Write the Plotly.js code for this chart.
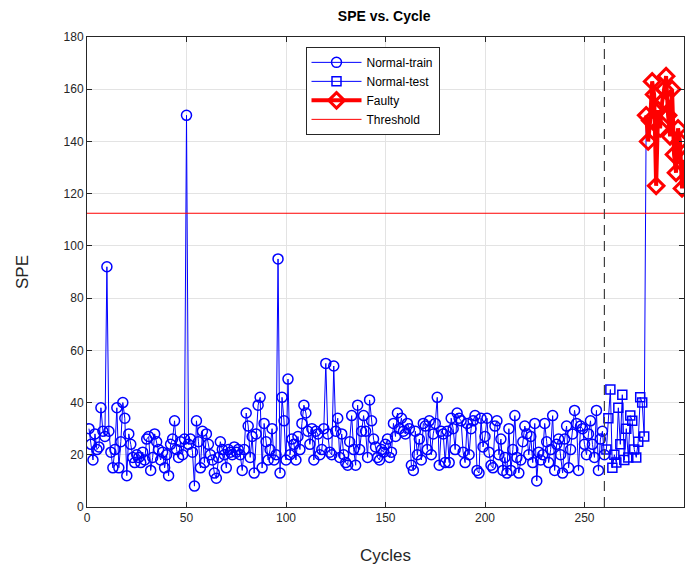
<!DOCTYPE html>
<html>
<head>
<meta charset="utf-8">
<script src="https://cdn.plot.ly/plotly-3.0.1.min.js"></script>
<style>html,body{margin:0;padding:0;background:#fff;}#chart{width:686px;height:567px;}</style>
</head>
<body>
<div id="chart"></div>
<script>
// SPE values per cycle
const trainSPE = [
  30, 24, 18, 28, 22, 23, 38, 29, 27, 92,
  29, 21, 15, 22, 38, 15, 25, 40, 34, 12,
  28, 24, 19, 17, 20, 19, 17, 21, 18, 26,
  27, 14, 19, 28, 25, 22, 18, 21, 15, 20,
  12, 24, 26, 33, 22, 19, 25, 20, 26, 150,
  24, 26, 21, 8, 33, 25, 15, 29, 17, 28,
  24, 20, 18, 13, 11, 19, 25, 22, 20, 15,
  22, 21, 20, 23, 21, 22, 20, 14, 22, 36,
  31, 19, 27, 13, 28, 39, 42, 15, 32, 25,
  18, 22, 30, 18, 20, 95, 13, 42, 33, 18,
  49, 20, 26, 24, 18, 27, 22, 32, 39, 36,
  29, 24, 30, 18, 29, 28, 20, 22, 30, 55,
  28, 21, 20, 54, 29, 34, 19, 28, 20, 17,
  16, 25, 35, 22, 16, 39, 22, 29, 35, 29,
  19, 41, 33, 26, 23, 19, 18, 22, 21, 24,
  26, 19, 21, 32, 27, 36, 30, 34, 29, 28,
  32, 30, 16, 14, 29, 20, 26, 18, 32, 31,
  22, 33, 20, 28, 32, 42, 16, 29, 28, 17,
  29, 17, 34, 30, 22, 36, 34, 33, 21, 17,
  32, 20, 30, 33, 35, 14, 13, 34, 23, 27,
  34, 21, 16, 15, 31, 33, 20, 26, 14, 19,
  13, 30, 14, 22, 35, 19, 13, 18, 25, 31,
  28, 20, 27, 17, 32, 10, 21, 18, 20, 32,
  25, 17, 22, 35, 14, 24, 26, 20, 13, 26,
  31, 15, 22, 28, 37, 32, 14, 31, 30, 24,
  20, 28, 33, 24, 19, 37, 14, 26, 29, 20
];
const testSPE = [22, 34, 45, 15, 20, 17, 38, 24, 43, 18, 30, 19, 35, 33, 22, 19, 25, 42, 40, 27];
const faultySPE = [150, 140, 148, 163, 158, 123, 152, 145, 155, 160, 165, 150, 142, 160, 135, 128, 145, 140, 122, 133];
const threshold = 112.5;
const splitCycle = 260;
const xTicks = [0, 50, 100, 150, 200, 250, 300];
const yTicks = [0, 20, 40, 60, 80, 100, 120, 140, 160, 180];

const trainX = trainSPE.map((_, i) => i + 1);
const testX = testSPE.map((_, i) => trainSPE.length + i + 1);
const faultyX = faultySPE.map((_, i) => trainSPE.length + testSPE.length + i + 1);

const blue = '#0000ff', red = '#ff0000';
const traces = [
  {x: [trainX[trainX.length-1], testX[0]], y: [trainSPE[trainSPE.length-1], testSPE[0]], mode: 'lines',
   line: {color: blue, width: 1}, showlegend: false, hoverinfo: 'skip'},
  {x: [testX[testX.length-1], faultyX[0]], y: [testSPE[testSPE.length-1], faultySPE[0]], mode: 'lines',
   line: {color: blue, width: 1}, showlegend: false, hoverinfo: 'skip'},
  {x: trainX, y: trainSPE, name: 'Normal-train', mode: 'lines+markers',
   line: {color: blue, width: 1}, marker: {symbol: 'circle-open', size: 10, color: blue, line: {width: 1.5, color: blue}}},
  {x: testX, y: testSPE, name: 'Normal-test', mode: 'lines+markers',
   line: {color: blue, width: 1}, marker: {symbol: 'square-open', size: 9, color: blue, line: {width: 1.5, color: blue}}},
  {x: faultyX, y: faultySPE, name: 'Faulty', mode: 'lines+markers',
   line: {color: red, width: 4}, marker: {symbol: 'diamond-open', size: 12, color: red, line: {width: 3, color: red}}},
  {x: [xTicks[0], xTicks[xTicks.length-1]], y: [threshold, threshold], name: 'Threshold', mode: 'lines',
   line: {color: red, width: 1}}
];

const axisCommon = {
  showline: true, linecolor: '#262626', linewidth: 1, mirror: 'ticks',
  ticks: 'inside', ticklen: 5, tickcolor: '#262626',
  showgrid: true, gridcolor: '#e3e3e3', gridwidth: 1, zeroline: false,
  tickfont: {family: 'Liberation Sans, Arial, sans-serif', size: 12, color: '#262626'}
};

const layout = {
  width: 686, height: 567,
  margin: {l: 87, r: 2, t: 37, b: 60},
  paper_bgcolor: '#ffffff', plot_bgcolor: '#ffffff',
  font: {family: 'Liberation Sans, Arial, sans-serif', color: '#262626'},
  title: {text: '<b>SPE vs. Cycle</b>', font: {size: 14, color: '#000000'}, x: 0.56, xanchor: 'center', y: 0.972, yanchor: 'middle'},
  xaxis: Object.assign({}, axisCommon, {range: [0, 300], tickvals: xTicks, ticktext: xTicks.map(String),
    title: {text: 'Cycles', font: {size: 17, color: '#262626'}, standoff: 24}}),
  yaxis: Object.assign({}, axisCommon, {range: [0, 180], tickvals: yTicks, ticktext: yTicks.map(String),
    title: {text: 'SPE', font: {size: 17, color: '#262626'}, standoff: 30}}),
  shapes: [{type: 'line', xref: 'x', yref: 'y', x0: splitCycle, x1: splitCycle, y0: 0, y1: 180,
    line: {color: '#404040', width: 1.2, dash: '10px,6px'}}],
  legend: {x: 0.366, y: 0.979, xanchor: 'left', yanchor: 'top', bgcolor: '#ffffff', bordercolor: '#262626', borderwidth: 1,
    font: {size: 12, color: '#000000'}, tracegroupgap: 0, itemwidth: 50},
  showlegend: true
};

Plotly.newPlot('chart', traces, layout, {displayModeBar: false, staticPlot: true});
</script>
</body>
</html>
